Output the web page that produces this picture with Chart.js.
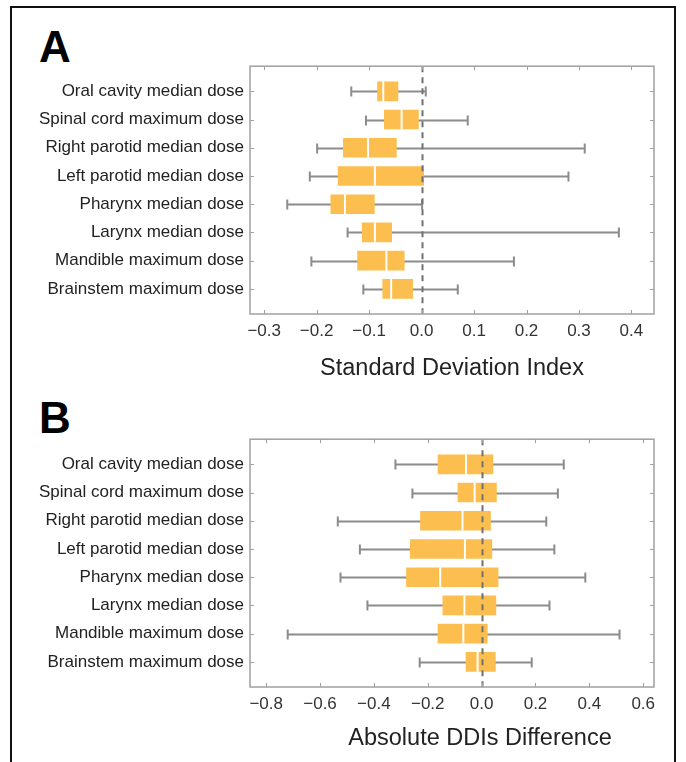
<!DOCTYPE html>
<html>
<head>
<meta charset="utf-8">
<script src="https://cdn.jsdelivr.net/npm/chart.js@4.4.1/dist/chart.umd.min.js"></script>
<style>
  html, body { margin: 0; padding: 0; background: #fff; }
  body { width: 686px; height: 762px; position: relative; overflow: hidden; font-family: "Liberation Sans", Arial, sans-serif; }
  .frame { position: absolute; left: 10px; top: 6px; width: 666px; height: 800px; border: 2px solid #111; box-sizing: border-box; }
  .panel { position: absolute; left: 20px; width: 650px; height: 334px; }
  .tag { position: absolute; left: 39px; font-weight: bold; font-size: 44px; color: #000; line-height: 1; }
  .axtitle { position: absolute; font-size: 23.5px; color: #222; white-space: nowrap; transform: translateX(-50%); line-height: 1; }
</style>
</head>
<body>
<div class="frame"></div>
<div class="tag" style="top:25px">A</div>
<div class="tag" style="top:396px">B</div>
<div class="panel" style="top:50px"><canvas id="chartA"></canvas></div>
<div class="panel" style="top:423px"><canvas id="chartB"></canvas></div>
<div class="axtitle" style="left:452px; top:356px">Standard Deviation Index</div>
<div class="axtitle" style="left:480px; top:726px">Absolute DDIs Difference</div>
<script>
const labels = [
  'Oral cavity median dose',
  'Spinal cord maximum dose',
  'Right parotid median dose',
  'Left parotid median dose',
  'Pharynx median dose',
  'Larynx median dose',
  'Mandible maximum dose',
  'Brainstem maximum dose'
];

// Panel A: standard deviation index
const sdiMin = [-0.134, -0.106, -0.199, -0.213, -0.256, -0.141, -0.210, -0.111];
const sdiQ1  = [-0.084, -0.071, -0.149, -0.159, -0.173, -0.113, -0.122, -0.074];
const sdiMed = [-0.073, -0.038, -0.102, -0.089, -0.146, -0.089, -0.067, -0.058];
const sdiQ3  = [-0.045, -0.006, -0.048,  0.004, -0.090, -0.057, -0.033, -0.017];
const sdiMax = [ 0.008,  0.088,  0.311,  0.280,  0.001,  0.376,  0.176,  0.069];

// Panel B: absolute DDIs difference
const ddiMin = [-0.320, -0.257, -0.534, -0.452, -0.524, -0.424, -0.720, -0.230];
const ddiQ1  = [-0.162, -0.088, -0.227, -0.265, -0.279, -0.144, -0.162, -0.058];
const ddiMed = [-0.058, -0.026, -0.071, -0.062, -0.154, -0.064, -0.068, -0.015];
const ddiQ3  = [ 0.042,  0.055,  0.033,  0.038,  0.061,  0.053,  0.021,  0.051];
const ddiMax = [ 0.305,  0.283,  0.240,  0.270,  0.385,  0.252,  0.512,  0.186];

const BOX = '#fcbf4f';
const WHISK = '#8c8c8c';
const FRAME = '#a0a0a0';

// whiskers behind, medians / zero line / frame on top
const boxPlotPlugin = {
  id: 'boxPlot',
  beforeDatasetsDraw(ci) {
    const { ctx, scales: { x, y } } = ci;
    const st = ci.options.plugins.boxPlot;
    ctx.save();
    ctx.strokeStyle = WHISK;
    ctx.lineWidth = 2;
    st.min.forEach((lo, i) => {
      const py = Math.round(y.getPixelForValue(i + 1)) + 0.5;
      const x0 = x.getPixelForValue(lo);
      const x1 = x.getPixelForValue(st.max[i]);
      ctx.beginPath();
      ctx.moveTo(x0, py); ctx.lineTo(x1, py);
      ctx.moveTo(x0, py - 5); ctx.lineTo(x0, py + 5);
      ctx.moveTo(x1, py - 5); ctx.lineTo(x1, py + 5);
      ctx.stroke();
    });
    ctx.restore();
  },
  afterDatasetsDraw(ci) {
    const { ctx, chartArea: ca, scales: { x, y } } = ci;
    const st = ci.options.plugins.boxPlot;
    ctx.save();
    // median gaps
    ctx.strokeStyle = '#fff';
    ctx.lineWidth = 2;
    st.med.forEach((m, i) => {
      const py = y.getPixelForValue(i + 1);
      const px = x.getPixelForValue(m);
      ctx.beginPath();
      ctx.moveTo(px, py - 10); ctx.lineTo(px, py + 10);
      ctx.stroke();
    });
    // dashed zero line
    const zx = Math.round(x.getPixelForValue(0)) + 0.5;
    ctx.strokeStyle = '#707070';
    ctx.setLineDash([6, 5]);
    ctx.lineWidth = 2;
    ctx.beginPath();
    ctx.moveTo(zx, ca.top); ctx.lineTo(zx, ca.bottom);
    ctx.stroke();
    ctx.setLineDash([]);
    // frame with inward ticks
    ctx.strokeStyle = FRAME;
    ctx.lineWidth = 1.5;
    ctx.strokeRect(ca.left, ca.top, ca.right - ca.left, ca.bottom - ca.top);
    ctx.lineWidth = 1;
    ctx.beginPath();
    x.ticks.forEach(t => {
      const px = Math.round(x.getPixelForValue(t.value)) + 0.5;
      ctx.moveTo(px, ca.bottom); ctx.lineTo(px, ca.bottom - 4);
      ctx.moveTo(px, ca.top); ctx.lineTo(px, ca.top + 4);
    });
    y.ticks.forEach(t => {
      const py = Math.round(y.getPixelForValue(t.value)) + 0.5;
      ctx.moveTo(ca.left, py); ctx.lineTo(ca.left + 4, py);
      ctx.moveTo(ca.right, py); ctx.lineTo(ca.right - 4, py);
    });
    ctx.stroke();
    ctx.restore();
  }
};

function fmtTick(v) {
  const s = (Math.abs(v) < 1e-9 ? 0 : v).toFixed(1);
  return s.replace('-', '\u2212');
}

function makeConfig(q1, q3, stats, xmin, xmax, step) {
  return {
    type: 'bar',
    data: {
      datasets: [{
        data: q1.map((v, i) => ({ x: [v, q3[i]], y: i + 1 })),
        backgroundColor: BOX,
        borderWidth: 0,
        barThickness: 19
      }]
    },
    options: {
      indexAxis: 'y',
      responsive: true,
      maintainAspectRatio: false,
      animation: false,
      layout: { padding: { top: 13, right: 16, left: 0, bottom: 0 } },
      scales: {
        x: {
          type: 'linear',
          min: xmin,
          max: xmax,
          grid: { display: false, drawTicks: false },
          border: { display: false },
          ticks: {
            stepSize: step,
            includeBounds: false,
            padding: 7,
            color: '#333',
            font: { family: '"Liberation Sans", Arial, sans-serif', size: 17 },
            callback: (v) => fmtTick(v)
          },
          afterFit: (s) => { s.height = 70; }
        },
        y: {
          type: 'linear',
          offset: false,
          min: 0.11,
          max: 8.89,
          reverse: true,
          grid: { display: false, drawTicks: false, offset: false },
          border: { display: false },
          afterBuildTicks: (s) => { s.ticks = labels.map((_, i) => ({ value: i + 1 })); },
          ticks: {
            padding: 6,
            color: '#222',
            autoSkip: false,
            font: { family: '"Liberation Sans", Arial, sans-serif', size: 17 },
            callback: (v) => labels[Math.round(v) - 1]
          },
          afterFit: (s) => { s.width = 230; }
        }
      },
      plugins: {
        legend: { display: false },
        tooltip: { enabled: false },
        boxPlot: stats
      }
    },
    plugins: [boxPlotPlugin]
  };
}

new Chart(document.getElementById('chartA'),
  makeConfig(sdiQ1, sdiQ3, { min: sdiMin, med: sdiMed, max: sdiMax }, -0.327, 0.443, 0.1));
new Chart(document.getElementById('chartB'),
  makeConfig(ddiQ1, ddiQ3, { min: ddiMin, med: ddiMed, max: ddiMax }, -0.86, 0.64, 0.2));
</script>
</body>
</html>
